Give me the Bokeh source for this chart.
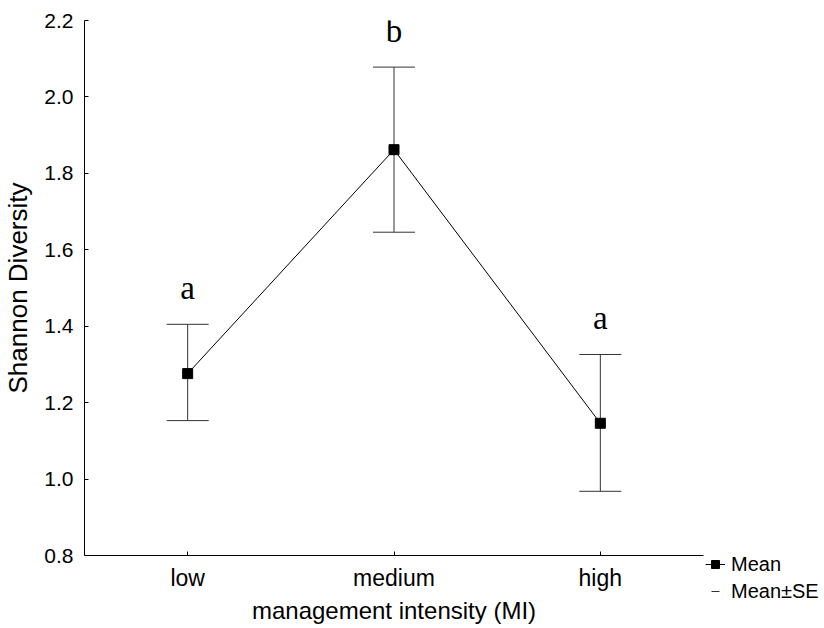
from bokeh.plotting import figure
from bokeh.models import (ColumnDataSource, Whisker, TeeHead, Range1d, FixedTicker,
                          PrintfTickFormatter, Legend, LegendItem)
from bokeh.core.properties import value
from bokeh.embed import file_html
from bokeh.resources import INLINE

# ---- data ----
categories = ["low", "medium", "high"]
means = [1.276, 1.862, 1.146]
upper_se = [1.405, 2.078, 1.326]
lower_se = [1.153, 1.646, 0.968]
letters = ["a", "b", "a"]
y_ticks = [0.8, 1.0, 1.2, 1.4, 1.6, 1.8, 2.0, 2.2]

src = ColumnDataSource(dict(x=categories, mean=means, upper=upper_se,
                            lower=lower_se, letters=letters))

p = figure(x_range=categories, y_range=Range1d(0.8, 2.2),
           frame_width=619, frame_height=535,
           min_border_left=84, min_border_top=20, min_border_right=118,
           min_border_bottom=72,
           output_backend="svg", toolbar_location=None)
p.x_range.range_padding = 0
p.outline_line_color = None
p.xgrid.visible = False
p.ygrid.visible = False
p.background_fill_color = "white"

FONT = "Liberation Sans"

# axes
for ax in (p.xaxis[0], p.yaxis[0]):
    ax.axis_line_color = "black"
    ax.axis_line_width = 1
    ax.major_tick_in = 4
    ax.major_tick_out = 0
    ax.minor_tick_line_color = None
    ax.major_tick_line_color = "black"
    ax.major_label_text_font = FONT
    ax.major_label_text_color = "black"
    ax.axis_label_text_font = FONT
    ax.axis_label_text_font_style = "normal"
    ax.axis_label_text_color = "black"

p.yaxis.ticker = FixedTicker(ticks=y_ticks)
p.yaxis.formatter = PrintfTickFormatter(format="%.1f")
p.yaxis.major_label_text_font_size = "21px"
p.yaxis.major_label_standoff = 11
p.yaxis.axis_label = "Shannon Diversity"
p.yaxis.axis_label_text_font_size = "26px"
p.yaxis.axis_label_standoff = 8
p.xaxis.major_label_text_font_size = "23px"
p.xaxis.major_label_standoff = 9
p.xaxis.axis_label = "management intensity (MI)"
p.xaxis.axis_label_text_font_size = "24px"
p.xaxis.axis_label_standoff = 3

# error bars
wh = Whisker(base="x", upper="upper", lower="lower", source=src,
             dimension="height", line_color="#333333", line_width=1,
             upper_head=TeeHead(size=42, line_color="#333333", line_width=1),
             lower_head=TeeHead(size=42, line_color="#333333", line_width=1))
p.add_layout(wh)

# mean line and markers
line_r = p.line("x", "mean", source=src, line_color="black", line_width=1)
sq_r = p.scatter("x", "mean", source=src, marker="square", size=10,
                 fill_color="black", line_color="black")

# significance letters
p.text(x="x", y="upper", text="letters", source=src, y_offset=-36,
       text_align="center", text_baseline="alphabetic",
       text_font=value("Liberation Serif"), text_font_size="33px",
       text_color="black")

# legend proxy for Mean±SE (zero size in the plot, drawn only in the legend)
se_r = p.scatter("x", "mean", source=src, marker="dash",
                 size=0, line_color="#333333", line_width=1)

legend = Legend(items=[LegendItem(label="Mean", renderers=[line_r, sq_r]),
                       LegendItem(label="Mean±SE", renderers=[se_r])],
                location=(2, -48))
legend.border_line_alpha = 0
legend.background_fill_alpha = 0
legend.padding = 0
legend.margin = 0
legend.spacing = 3
legend.glyph_width = 20
legend.glyph_height = 24
legend.label_height = 24
legend.label_standoff = 6
legend.label_text_font = FONT
legend.label_text_font_size = "20px"
legend.label_text_color = "black"
p.add_layout(legend, "right")

open("out.html", "w").write(file_html(p, INLINE))
